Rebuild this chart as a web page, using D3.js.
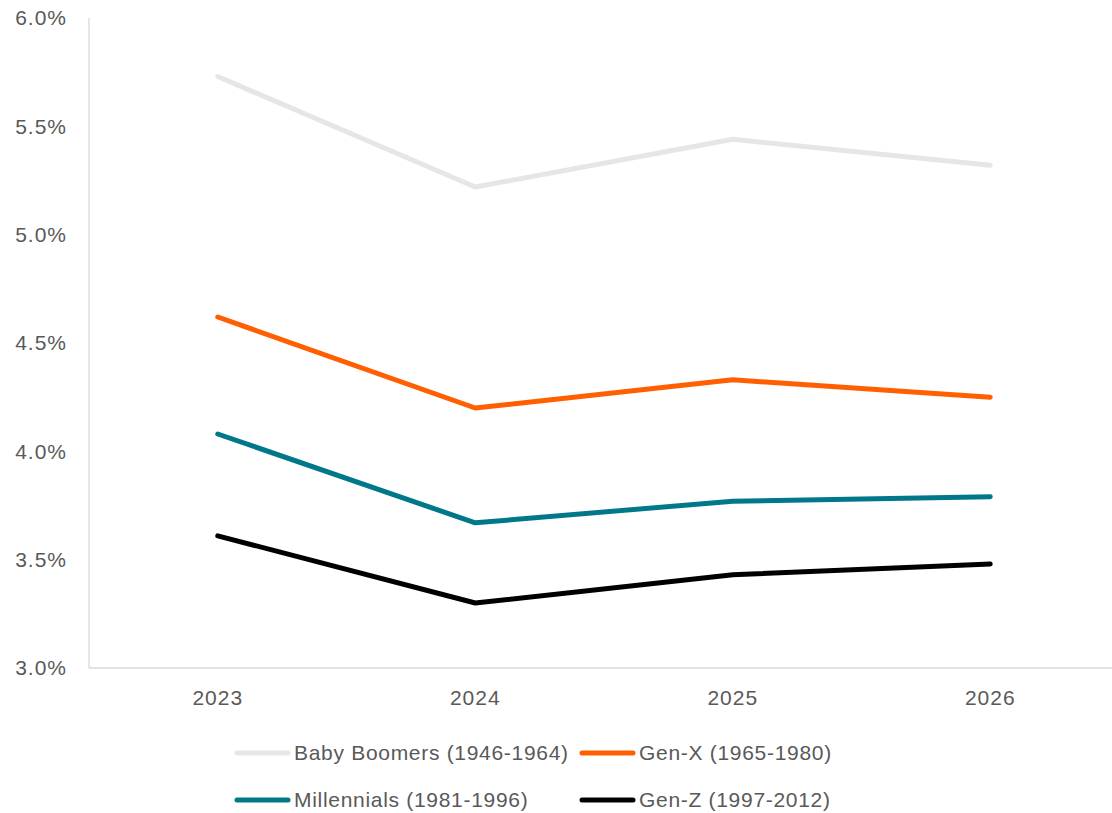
<!DOCTYPE html>
<html>
<head>
<meta charset="utf-8">
<script src="https://cdn.jsdelivr.net/npm/d3@7"></script>
<style>
  html, body { margin: 0; padding: 0; background: #fff; }
  svg { display: block; }
  text { font-family: "Liberation Sans", Arial, sans-serif; fill: #595959; }
</style>
</head>
<body>
<svg id="chart" width="1112" height="813"></svg>
<script>
// Years on the category axis
const years = ["2023", "2024", "2025", "2026"];

// Rate per generation, in percent
const babyBoomers = [5.73, 5.22, 5.44, 5.32];
const genX        = [4.62, 4.20, 4.33, 4.25];
const millennials = [4.08, 3.67, 3.77, 3.79];
const genZ        = [3.61, 3.30, 3.43, 3.48];

// Value axis ticks
const yTicks = [3.0, 3.5, 4.0, 4.5, 5.0, 5.5, 6.0];

const seriesNames  = ["Baby Boomers (1946-1964)", "Gen-X (1965-1980)", "Millennials (1981-1996)", "Gen-Z (1997-2012)"];
const seriesColors = ["#e6e6e6", "#ff5f00", "#00788a", "#000000"];
const seriesValues = [babyBoomers, genX, millennials, genZ];

const series = seriesNames.map((name, i) => ({ name, color: seriesColors[i], values: seriesValues[i] }));

const svg = d3.select("#chart");
const plot = { left: 89, right: 1119, top: 18, bottom: 668 };

const x = d3.scaleBand().domain(years).range([plot.left, plot.right]);
const y = d3.scaleLinear().domain([3.0, 6.0]).range([plot.bottom, plot.top]);

// Axis lines
svg.append("line")
  .attr("x1", plot.left).attr("x2", plot.left)
  .attr("y1", plot.top).attr("y2", plot.bottom)
  .attr("stroke", "#d9d9d9").attr("stroke-width", 1.3);
svg.append("line")
  .attr("x1", plot.left).attr("x2", plot.right)
  .attr("y1", plot.bottom).attr("y2", plot.bottom)
  .attr("stroke", "#d9d9d9").attr("stroke-width", 1.3);

// Y axis labels
const yAxis = d3.axisLeft(y).tickValues(yTicks).tickFormat(d => d.toFixed(1) + "%").tickSize(0).tickPadding(22);
const gy = svg.append("g").attr("transform", `translate(${plot.left},0)`).call(yAxis);
gy.select(".domain").remove();
gy.selectAll("text").style("font-size", "21px").style("letter-spacing", "1px")
  .style("font-family", "'Liberation Sans', Arial, sans-serif").attr("fill", "#595959");

// X axis labels
const xAxis = d3.axisBottom(x).tickSize(0).tickPadding(22);
const gx = svg.append("g").attr("transform", `translate(0,${plot.bottom})`).call(xAxis);
gx.select(".domain").remove();
gx.selectAll("text").style("font-size", "21px").style("letter-spacing", "1px")
  .style("font-family", "'Liberation Sans', Arial, sans-serif").attr("fill", "#595959");

// Lines
const line = d3.line()
  .x((d, i) => x(years[i]) + x.bandwidth() / 2)
  .y(d => y(d));

svg.append("g").selectAll("path")
  .data(series)
  .join("path")
  .attr("d", d => line(d.values))
  .attr("fill", "none")
  .attr("stroke", d => d.color)
  .attr("stroke-width", 5)
  .attr("stroke-linecap", "round")
  .attr("stroke-linejoin", "round");

// Legend, two rows of two
const legendPos = [[235, 753], [580, 753], [235, 800], [580, 800]];
const legend = svg.append("g").selectAll("g")
  .data(series)
  .join("g")
  .attr("transform", (d, i) => `translate(${legendPos[i][0]},${legendPos[i][1]})`);
legend.append("line")
  .attr("x1", 2).attr("x2", 53).attr("y1", 0).attr("y2", 0)
  .attr("stroke", d => d.color).attr("stroke-width", 5).attr("stroke-linecap", "round");
legend.append("text")
  .attr("x", 59).attr("y", 0).attr("dy", "0.35em")
  .style("font-size", "21px").style("letter-spacing", "0.7px")
  .text(d => d.name);
</script>
</body>
</html>
